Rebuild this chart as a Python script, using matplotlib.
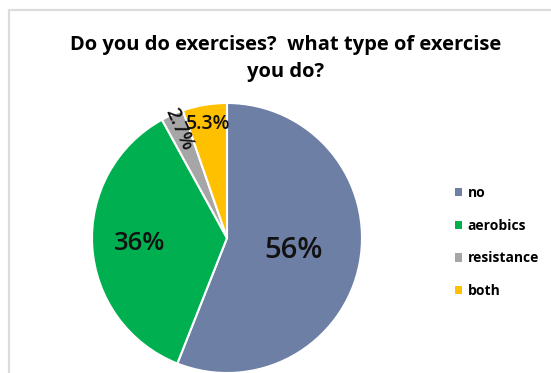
import numpy as np
import matplotlib
matplotlib.use("Agg")
from matplotlib import pyplot as plt
from matplotlib.patches import Rectangle, Patch

categories = ["no", "aerobics", "resistance", "both"]
shares = [56, 36, 2.7, 5.3]
pct_labels = ["56%", "36%", "2.7%", "5.3%"]
colors = ["#6E7FA6", "#00B050", "#A6A6A6", "#FFC000"]

plt.rcParams['font.family'] = ['Open Sans', 'DejaVu Sans']

W, H = 551, 373
fig = plt.figure(figsize=(W / 100, H / 100), dpi=100)

# light chart-area frame, running off the right and bottom edges
fig.patches.append(Rectangle((9 / W, -0.1), 1.1, (H - 10) / H + 0.1,
                             transform=fig.transFigure, fill=False,
                             edgecolor="#DCDCDC", linewidth=1.6))

fig.text(286 / W, 1 - 45 / H, "Do you do exercises?  what type of exercise",
         ha="center", va="center", fontsize=14.5, fontweight="bold")
fig.text(286 / W, 1 - 72 / H, "you do?",
         ha="center", va="center", fontsize=14.5, fontweight="bold")

# pie: centre (227, 238) px, radius 135 px
ax = fig.add_axes([92 / W, (H - 373) / H, 270 / W, 270 / H])
wedges, _ = ax.pie(shares, colors=colors, startangle=90, counterclock=False,
                   wedgeprops=dict(edgecolor="white", linewidth=1.5))
ax.set_xlim(-1, 1)
ax.set_ylim(-1, 1)

label_r = [0.5, 0.645, 0.88, 0.86]
label_size = [21, 18.5, 14, 14]
for w, lab, r, fs in zip(wedges, pct_labels, label_r, label_size):
    mid = np.deg2rad((w.theta1 + w.theta2) / 2)
    rot = 0
    if lab == "2.7%":
        rot = np.rad2deg(mid) - 180
    ax.text(r * np.cos(mid), r * np.sin(mid), lab, ha="center", va="center",
            fontsize=fs, fontweight="semibold", rotation=rot,
            rotation_mode="anchor", color="#111111")

handles = [Patch(facecolor=c, edgecolor="none") for c in colors]
fig.legend(handles, categories, loc="center left",
           bbox_to_anchor=(442 / W, 1 - 242 / H), frameon=False,
           prop={"weight": "bold", "size": 10},
           handlelength=0.55, handleheight=0.55, handletextpad=0.4,
           labelspacing=1.35)

plt.savefig("out.png", dpi=100)
